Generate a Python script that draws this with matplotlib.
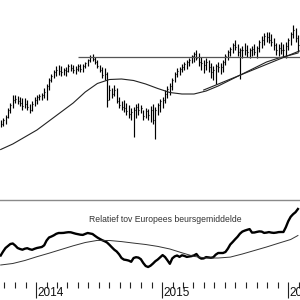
import numpy as np
import matplotlib
matplotlib.use("Agg")
import matplotlib.pyplot as plt
import matplotlib.dates as mdates
import matplotlib.transforms as mtransforms

# ---------------- data (weekly bars, arbitrary price units) ----------------
first_week = np.datetime64("2013-09-20")
n_weeks = 124

high = [80, 82, 85, 92, 97, 105, 105, 104, 103, 102,
        102, 100, 96, 99, 103, 105, 106, 107, 112, 116,
        122, 126, 130, 134, 135, 134, 132, 133, 136, 136,
        135, 134, 136, 136, 136, 138, 141, 145, 146, 143,
        140, 135, 133, 132, 128, 115, 112, 115, 112, 103,
        99, 100, 97, 95, 92, 93, 96, 97, 95, 90,
        92, 91, 94, 96, 93, 97, 101, 103, 110, 114,
        117, 122, 128, 132, 133, 136, 138, 140, 142, 145,
        148, 150, 147, 143, 140, 142, 140, 137, 134, 136,
        138, 137, 140, 146, 150, 153, 157, 160, 156, 152,
        154, 157, 155, 152, 154, 156, 154, 160, 164, 167,
        168, 168, 166, 162, 157, 156, 158, 156, 158, 162,
        168, 175, 172, 165]

low = [73, 74, 76, 82, 87, 92, 97, 96, 94, 90,
       92, 90, 87, 89, 94, 96, 100, 100, 102, 100,
       110, 118, 122, 124, 125, 124, 125, 124, 128, 129,
       127, 126, 129, 128, 128, 132, 134, 138, 139, 136,
       132, 128, 122, 120, 93, 100, 102, 104, 97, 92,
       90, 88, 85, 82, 80, 63, 82, 85, 87, 80,
       82, 80, 78, 76, 61, 85, 88, 92, 97, 102,
       105, 110, 118, 123, 125, 128, 130, 131, 134, 137,
       138, 140, 134, 130, 127, 130, 128, 122, 120, 116,
       128, 126, 128, 135, 140, 144, 147, 150, 144, 121,
       142, 145, 143, 142, 144, 145, 142, 148, 152, 155,
       158, 157, 154, 150, 145, 144, 146, 143, 142, 150,
       155, 162, 158, 148]

close = [76, 80, 83, 90, 95, 100, 101, 99, 97, 94,
         96, 93, 90, 96, 100, 103, 104, 105, 108, 114,
         120, 124, 128, 130, 129, 128, 130, 129, 134, 132,
         130, 131, 134, 131, 134, 137, 140, 143, 141, 138,
         134, 130, 125, 126, 100, 110, 106, 110, 99, 95,
         93, 92, 89, 86, 88, 90, 93, 90, 92, 84,
         89, 85, 90, 80, 90, 95, 99, 100, 106, 111,
         114, 120, 126, 129, 131, 133, 136, 138, 140, 144,
         146, 142, 138, 137, 135, 138, 133, 128, 130, 134,
         133, 133, 138, 144, 148, 151, 155, 153, 148, 150,
         150, 150, 148, 150, 151, 148, 152, 158, 160, 164,
         163, 160, 158, 155, 150, 152, 150, 150, 154, 160,
         166, 170, 162, 155]

# long moving average of price, read every 5 weeks
ma_week = [0, 5, 10, 15, 20, 25, 30, 35, 40, 45, 50, 55, 60, 65, 70, 75,
           80, 85, 90, 95, 100, 105, 110, 115, 120, 123]
ma_value = [50.5, 56, 63, 70, 79, 88, 97, 108, 116.5, 120.5, 121, 119.5, 116,
            111.5, 107.5, 106, 106, 109, 114, 120, 126, 132, 138, 142, 145, 147]

# resistance line (horizontal) and rising support line
resist_start_week = 32
resist_level = 143
trend_weeks = [84, 123.6]
trend_values = [110, 149]

# relative strength vs European market average
rs = [26.5, 30.5, 34, 36, 38, 38.5, 36.5, 34, 33, 32.3,
      33.3, 33.8, 32.8, 32.2, 33.2, 34, 34.5, 35, 36.7, 41.5,
      44.5, 45.5, 46.7, 48.2, 49, 49, 49.1, 49.5, 49.8, 49.7,
      49, 48.3, 47.8, 47.3, 47.1, 48.1, 49, 48.5, 48, 46.2,
      44.5, 43.1, 41.8, 40.8, 39.5, 37.2, 34.7, 32.3, 30.5, 27.7,
      24, 22.4, 22, 21.4, 20.2, 24, 24.8, 24.4, 22.8, 19,
      16, 15, 16.3, 18.4, 20.8, 22.5, 24.7, 26.9, 25, 21.7,
      18.2, 23.6, 25.6, 26.5, 25.1, 26.7, 26.1, 25.1, 25.5, 25.9,
      26.6, 28, 24.8, 23.4, 23.6, 24.9, 24.6, 24.2, 24.8, 27.4,
      29, 29, 29, 30, 33.3, 37.5, 40, 42.7, 45.2, 48.3,
      50.4, 51.4, 52.2, 52.9, 49.4, 49.5, 50.1, 50.6, 50.4, 49.1,
      49.4, 49.9, 49.4, 49.1, 49.4, 49.9, 50, 50, 54.8, 60.8,
      65.2, 67.8, 69.8, 73]

rs_ma_week = [0, 5, 10, 15, 20, 25, 30, 35, 40, 45, 50, 55, 60, 65, 70, 75,
              80, 85, 90, 95, 100, 105, 110, 115, 120, 123]
rs_ma_value = [17, 18.5, 21.5, 25.3, 28.8, 32.5, 36.2, 39.5, 41.6, 41.5, 40.4,
               38.9, 37.5, 35.6, 33, 29.2, 25.6, 24, 24, 24.9, 28, 31.5, 35,
               38.8, 42.5, 46.5]

panel_title = "Relatief tov Europees beursgemiddelde"
year_labels = ["2014", "2015", "2016"]

# ---------------- helpers ----------------
def wk2num(w):
    d = first_week + np.round(np.asarray(w, dtype=float) * 7).astype("timedelta64[D]")
    return mdates.date2num(d)

x = wk2num(np.arange(n_weeks))
x_left = mdates.date2num(np.datetime64("2013-09-18"))
x_right = mdates.date2num(np.datetime64("2016-02-04"))

plt.rcParams["font.family"] = ["Liberation Sans", "DejaVu Sans"]

fig = plt.figure(figsize=(3, 3), dpi=100)
fig.patch.set_facecolor("white")

ax = fig.add_axes([0, 1/3, 1, 2/3])
ax2 = fig.add_axes([0, 18/300, 1, 82/300])

# ---- price panel ----
ax.vlines(x, low, high, color="black", lw=0.85)
ax.hlines(close, x, x + 3, color="black", lw=0.8)
ax.plot(wk2num(ma_week), ma_value, color="#222222", lw=0.8)
ax.hlines(resist_level, wk2num(resist_start_week), x_right, color="#555555", lw=0.9)
ax.plot(wk2num(trend_weeks), trend_values, color="#222222", lw=0.8)
ax.set_xlim(x_left, x_right)
ax.set_ylim(0, 200)
ax.axis("off")

# ---- relative strength panel ----
ax2.plot(x, rs, color="black", lw=1.7)
ax2.plot(wk2num(rs_ma_week), rs_ma_value, color="#333333", lw=0.7)
ax2.set_xlim(x_left, x_right)
ax2.set_ylim(0, 82)
for s in ["left", "right", "bottom"]:
    ax2.spines[s].set_visible(False)
ax2.spines["top"].set_color("#8a8a8a")
ax2.spines["top"].set_linewidth(1.0)
ax2.set_yticks([])

ax2.xaxis.set_major_locator(mdates.YearLocator())
ax2.xaxis.set_minor_locator(mdates.MonthLocator())
ax2.xaxis.set_major_formatter(plt.NullFormatter())
ax2.tick_params(axis="x", which="major", direction="out", length=11.5, width=0.8, color="#222222")
ax2.tick_params(axis="x", which="minor", direction="out", length=4, width=0.8, color="#222222")

trans = mtransforms.blended_transform_factory(ax2.transData, ax2.transAxes)
for lab in year_labels:
    xd = mdates.date2num(np.datetime64(lab + "-01-01"))
    ax2.text(xd + 2.5, -0.135, lab, transform=trans, ha="left", va="center",
             fontsize=8.5, color="#111111", clip_on=False)

fig.text(89/300, 1 - 220/300, panel_title, fontsize=6.2, color="#333333",
         ha="left", va="center")

fig.savefig("out.png", dpi=100, facecolor="white")
